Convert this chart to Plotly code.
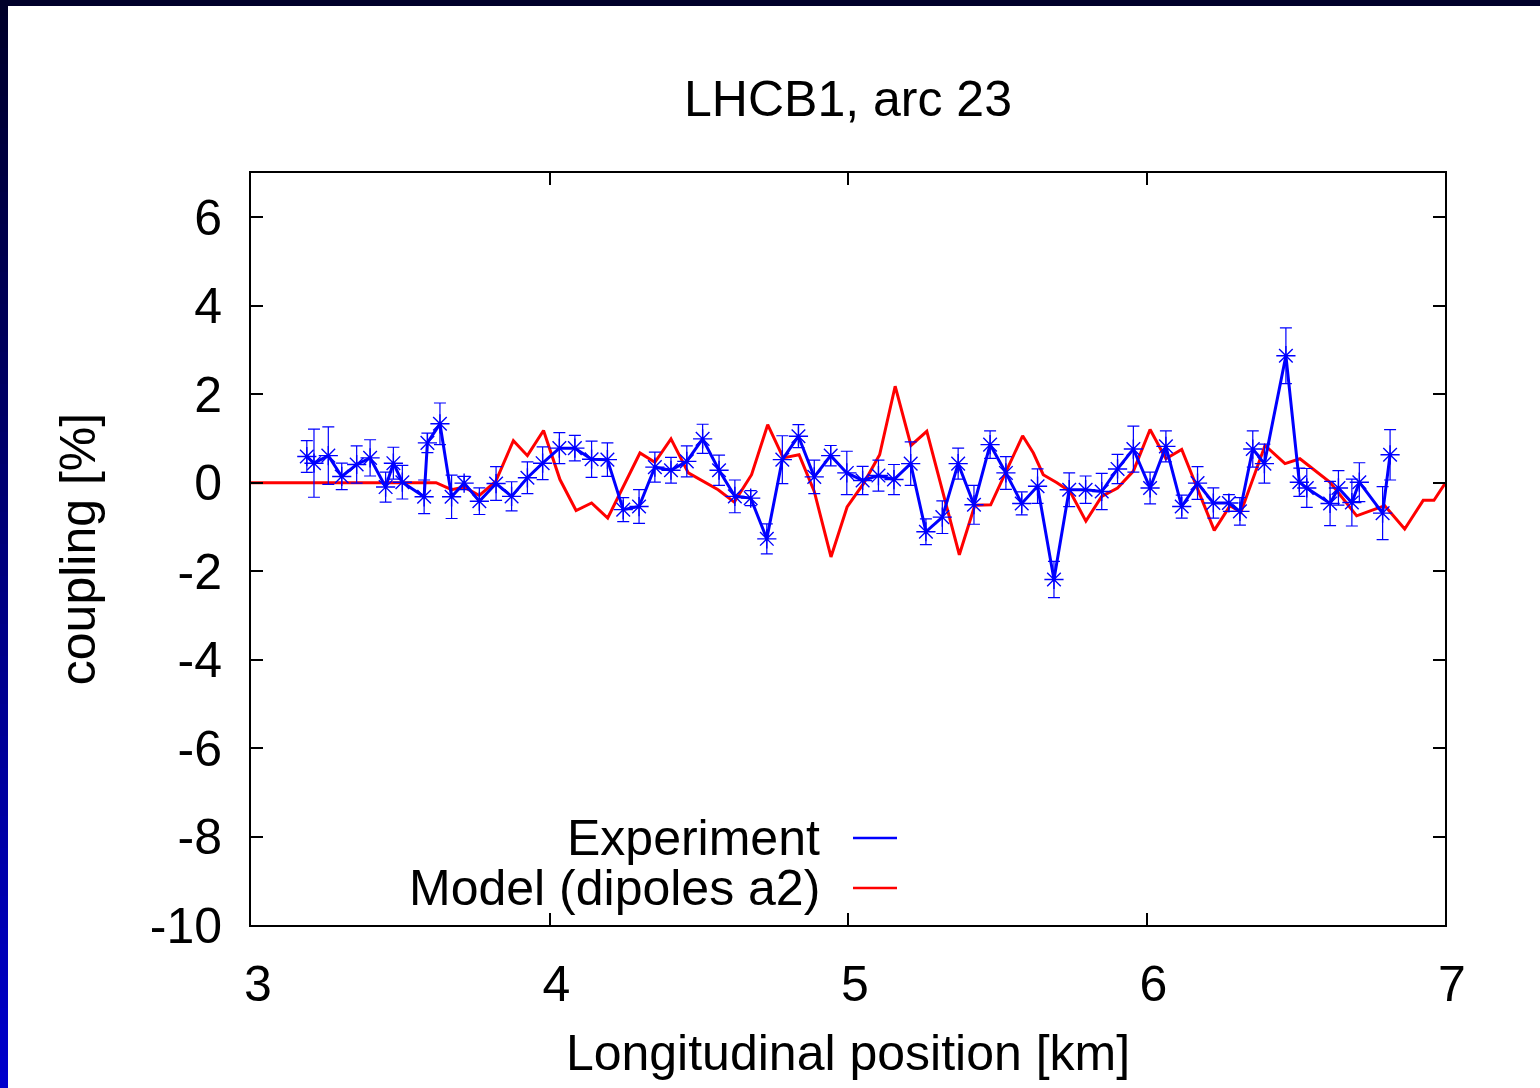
import plotly.graph_objects as go

# Measured coupling along the arc (position in km, coupling in %, error in %)
exp_pos = [3.187, 3.211, 3.259, 3.304, 3.354, 3.399, 3.451, 3.477, 3.507, 3.580,
           3.591, 3.633, 3.672, 3.714, 3.765, 3.821, 3.873, 3.926, 3.977, 4.033,
           4.085, 4.141, 4.194, 4.247, 4.300, 4.353, 4.407, 4.460, 4.513, 4.568,
           4.621, 4.674, 4.728, 4.780, 4.834, 4.887, 4.942, 4.996, 5.049, 5.102,
           5.154, 5.210, 5.261, 5.316, 5.369, 5.422, 5.476, 5.529, 5.582, 5.635,
           5.690, 5.741, 5.796, 5.850, 5.903, 5.956, 6.012, 6.065, 6.118, 6.171,
           6.224, 6.276, 6.313, 6.356, 6.395, 6.467, 6.512, 6.537, 6.615, 6.643,
           6.688, 6.713, 6.791, 6.816]
exp_coupling = [0.59, 0.44, 0.61, 0.14, 0.41, 0.56, -0.10, 0.44, 0.01, -0.32,
                0.90, 1.33, -0.32, -0.01, -0.42, -0.02, -0.31, 0.11, 0.44, 0.78,
                0.78, 0.53, 0.52, -0.61, -0.54, 0.35, 0.28, 0.48, 0.99, 0.28,
                -0.31, -0.35, -1.27, 0.52, 1.05, 0.13, 0.61, 0.22, 0.05, 0.16,
                0.07, 0.43, -1.11, -0.78, 0.43, -0.50, 0.86, 0.22, -0.47, -0.08,
                -2.19, -0.16, -0.16, -0.20, 0.31, 0.76, -0.12, 0.82, -0.54, -0.01,
                -0.46, -0.46, -0.65, 0.76, 0.43, 2.87, 0.01, -0.12, -0.47, -0.12,
                -0.45, 0.01, -0.69, 0.63]
exp_error = [0.36, 0.77, 0.65, 0.30, 0.42, 0.41, 0.34, 0.36, 0.38, 0.38,
             0.22, 0.47, 0.49, 0.15, 0.30, 0.38, 0.33, 0.36, 0.37, 0.35,
             0.29, 0.41, 0.38, 0.27, 0.38, 0.34, 0.29, 0.35, 0.33, 0.34,
             0.37, 0.17, 0.34, 0.54, 0.26, 0.38, 0.23, 0.49, 0.32, 0.35,
             0.34, 0.49, 0.29, 0.37, 0.35, 0.44, 0.31, 0.37, 0.26, 0.39,
             0.41, 0.38, 0.31, 0.41, 0.33, 0.52, 0.36, 0.35, 0.26, 0.37,
             0.34, 0.19, 0.31, 0.41, 0.44, 0.63, 0.32, 0.44, 0.50, 0.39,
             0.53, 0.44, 0.60, 0.57]

# Model prediction from dipole a2 errors
model_pos = [3.0, 3.62, 3.672, 3.714, 3.765, 3.82, 3.879, 3.926, 3.98, 4.035,
             4.089, 4.141, 4.195, 4.303, 4.353, 4.407, 4.465, 4.515, 4.565, 4.619,
             4.677, 4.731, 4.783, 4.836, 4.887, 4.943, 4.997, 5.053, 5.106, 5.158,
             5.211, 5.264, 5.373, 5.425, 5.478, 5.585, 5.621, 5.654, 5.70, 5.744,
             5.797, 5.850, 5.903, 5.956, 6.012, 6.065, 6.118, 6.227, 6.280, 6.316,
             6.397, 6.464, 6.514, 6.615, 6.704, 6.798, 6.865, 6.927, 6.963, 7.0]
model_coupling = [0, 0, -0.16, -0.10, -0.29, 0.03, 0.95, 0.61, 1.18, 0.07,
                  -0.63, -0.46, -0.80, 0.67, 0.46, 0.99, 0.22, 0.03, -0.16, -0.44,
                  0.18, 1.31, 0.56, 0.63, -0.20, -1.68, -0.55, -0.01, 0.63, 2.18,
                  0.84, 1.16, -1.63, -0.51, -0.50, 1.06, 0.67, 0.18, 0.0, -0.20,
                  -0.87, -0.31, -0.12, 0.26, 1.20, 0.54, 0.75, -1.08, -0.52, -0.67,
                  0.84, 0.43, 0.54, 0.01, -0.75, -0.52, -1.05, -0.40, -0.40, -0.02]

series_names = ["Experiment", "Model (dipoles a2)"]
x_ticks = [3, 4, 5, 6, 7]
y_ticks = [-10, -8, -6, -4, -2, 0, 2, 4, 6]

W, H = 1540, 1088
L, R, T, B = 251, 1445, 173, 925
FONT = "Liberation Sans, Arial, Helvetica, sans-serif"
FS = 50


def px_x(p):
    return (p - L) / (R - L)


def px_y(p):
    return (B - p) / (B - T)


fig = go.Figure()

fig.add_trace(go.Scatter(
    x=model_pos, y=model_coupling, mode="lines",
    line=dict(color="#ff0000", width=3),
    name=series_names[1], showlegend=False,
))

fig.add_trace(go.Scatter(
    x=exp_pos, y=exp_coupling, mode="lines+markers",
    line=dict(color="#0000ff", width=3),
    marker=dict(symbol="asterisk-open", size=16, color="#0000ff",
                line=dict(color="#0000ff", width=1.4)),
    error_y=dict(type="data", array=exp_error, visible=True,
                 color="#0000ff", thickness=1.2, width=6),
    name=series_names[0], showlegend=False,
))

shapes = []
# dark frame: top strip and a vertical gradient strip on the left
shapes.append(dict(type="rect", xref="paper", yref="paper",
                   x0=px_x(0), x1=px_x(W), y0=px_y(0), y1=px_y(6),
                   fillcolor="#00002a", line=dict(width=0), layer="above"))
n = 68
for i in range(n):
    t = i / (n - 1)
    b = int(0x2a + (0xcc - 0x2a) * t)
    shapes.append(dict(type="rect", xref="paper", yref="paper",
                       x0=px_x(0), x1=px_x(8),
                       y0=px_y(i * H / n), y1=px_y((i + 1) * H / n + 1),
                       fillcolor=f"#0000{b:02x}", line=dict(width=0), layer="above"))

# legend samples drawn to the right of the labels
legend_rows = [(838, "#0000ff"), (888, "#ff0000")]
annotations = []
for (yy, col), name in zip(legend_rows, series_names):
    shapes.append(dict(type="line", xref="paper", yref="paper",
                       x0=px_x(853), x1=px_x(897), y0=px_y(yy), y1=px_y(yy),
                       line=dict(color=col, width=2.5)))
    annotations.append(dict(xref="paper", yref="paper", x=px_x(822), y=px_y(yy),
                            xanchor="right", yanchor="middle", showarrow=False,
                            text=name, font=dict(size=FS, color="black", family=FONT)))

axis_common = dict(
    showline=True, linecolor="black", linewidth=2, mirror="ticks",
    ticks="inside", ticklen=12, tickwidth=2, tickcolor="black",
    showgrid=False, zeroline=False, automargin=False,
    tickfont=dict(size=FS, color="black", family=FONT),
)

fig.update_layout(
    width=W, height=H,
    margin=dict(l=L, r=W - R, t=T, b=H - B, pad=0, autoexpand=False),
    paper_bgcolor="white", plot_bgcolor="white",
    font=dict(family=FONT, color="black", size=FS),
    title=dict(text="LHCB1, arc 23", x=848 / W,
               xanchor="center", y=1 - 98 / H, yanchor="middle",
               font=dict(size=FS, color="black", family=FONT)),
    xaxis=dict(range=[3, 7], tickvals=x_ticks, ticktext=[str(v) for v in x_ticks],
               ticklabelstandoff=14, ticklabelshift=7,
               title=dict(text="Longitudinal position [km]", standoff=24,
                          font=dict(size=FS, family=FONT)),
               **axis_common),
    yaxis=dict(range=[-10, 7], tickvals=y_ticks, ticktext=[str(v) for v in y_ticks],
               ticklabelstandoff=17,
               title=dict(text="coupling [%]", standoff=38,
                          font=dict(size=FS, family=FONT)),
               **axis_common),
    shapes=shapes,
    annotations=annotations,
    showlegend=False,
)

fig.write_html("out.html")
